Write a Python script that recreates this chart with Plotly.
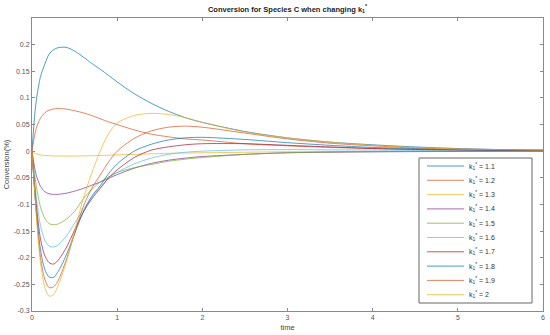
import plotly.graph_objects as go

time = [0, 0.025, 0.05, 0.1, 0.15, 0.2, 0.25, 0.3, 0.4, 0.5, 0.6, 0.7, 0.8, 0.9, 1.0,
        1.2, 1.4, 1.6, 1.8, 2.0, 2.5, 3.0, 3.5, 4.0, 4.5, 5.0, 5.5, 6.0]

k_values = ["1.1", "1.2", "1.3", "1.4", "1.5", "1.6", "1.7", "1.8", "1.9", "2"]

conv_11 = [0, 0.055, 0.095, 0.14, 0.163, 0.182, 0.19, 0.194, 0.195, 0.188, 0.177, 0.165, 0.154, 0.142, 0.13,
           0.108, 0.09, 0.075, 0.063, 0.054, 0.037, 0.025, 0.017, 0.012, 0.008, 0.005, 0.003, 0.002]
conv_12 = [0, 0.025, 0.043, 0.062, 0.072, 0.077, 0.079, 0.08, 0.079, 0.076, 0.072, 0.067, 0.061, 0.055, 0.05,
           0.04, 0.032, 0.027, 0.023, 0.021, 0.014, 0.01, 0.007, 0.005, 0.003, 0.002, 0.0015, 0.001]
conv_13 = [0, -0.003, -0.005, -0.007, -0.008, -0.0085, -0.009, -0.009, -0.0092, -0.009, -0.0088, -0.0085, -0.008, -0.0075, -0.007,
           -0.006, -0.005, -0.004, -0.0035, -0.003, -0.002, -0.001, -0.0007, -0.0005, -0.0003, -0.0002, -0.0001, 0]
conv_14 = [0, -0.025, -0.045, -0.066, -0.076, -0.08, -0.081, -0.081, -0.079, -0.075, -0.07, -0.064, -0.058, -0.051, -0.044,
           -0.032, -0.023, -0.017, -0.013, -0.01, -0.006, -0.003, -0.002, -0.0012, -0.0008, -0.0005, -0.0003, -0.0002]
conv_15 = [0, -0.035, -0.065, -0.105, -0.126, -0.136, -0.138, -0.137, -0.128, -0.113, -0.09, -0.072, -0.058, -0.048, -0.04,
           -0.031, -0.025, -0.019, -0.015, -0.012, -0.006, -0.003, -0.0015, -0.001, -0.0005, -0.0003, -0.0002, -0.0001]
conv_16 = [0, -0.045, -0.085, -0.14, -0.167, -0.178, -0.18, -0.177, -0.16, -0.135, -0.11, -0.087, -0.068, -0.052, -0.04,
           -0.024, -0.013, -0.006, -0.002, 0.0, 0.0025, 0.003, 0.0025, 0.002, 0.0015, 0.001, 0.0007, 0.0005]
conv_17 = [0, -0.055, -0.1, -0.165, -0.196, -0.209, -0.212, -0.206, -0.182, -0.148, -0.115, -0.09, -0.07, -0.05, -0.035,
           -0.012, 0.002, 0.008, 0.012, 0.014, 0.014, 0.011, 0.008, 0.005, 0.0035, 0.0025, 0.0015, 0.001]
conv_18 = [0, -0.06, -0.11, -0.185, -0.222, -0.236, -0.237, -0.228, -0.196, -0.155, -0.115, -0.085, -0.065, -0.042, -0.024,
           0.0, 0.013, 0.021, 0.025, 0.026, 0.022, 0.016, 0.011, 0.007, 0.005, 0.003, 0.002, 0.0015]
conv_19 = [0, -0.06, -0.115, -0.2, -0.24, -0.256, -0.255, -0.245, -0.205, -0.155, -0.105, -0.07, -0.045, -0.02, 0.0,
           0.024, 0.038, 0.045, 0.047, 0.045, 0.034, 0.023, 0.015, 0.01, 0.006, 0.004, 0.003, 0.002]
conv_20 = [0, -0.06, -0.12, -0.21, -0.255, -0.272, -0.27, -0.255, -0.21, -0.15, -0.09, -0.042, 0.0, 0.033, 0.053,
           0.067, 0.071, 0.069, 0.063, 0.054, 0.036, 0.025, 0.017, 0.011, 0.007, 0.004, 0.003, 0.002]

series = [conv_11, conv_12, conv_13, conv_14, conv_15, conv_16, conv_17, conv_18, conv_19, conv_20]

matlab_colors = ["#0072BD", "#D95319", "#EDB120", "#7E2F8E", "#77AC30", "#4DBEEE", "#A2142F"]

x_ticks = [0, 1, 2, 3, 4, 5, 6]
y_ticks = [-0.3, -0.25, -0.2, -0.15, -0.1, -0.05, 0, 0.05, 0.1, 0.15, 0.2]
y_tick_text = ["-0.3", "-0.25", "-0.2", "-0.15", "-0.1", "-0.05", "0", "0.05", "0.1", "0.15", "0.2"]

FONT = "Liberation Sans, Arial, sans-serif"

# plot area in pixels
L, R, T, B = 32, 543, 18, 311
W, H = 550, 335


def px_x(p):
    return (p - L) / (R - L)


def px_y(p):
    return (B - p) / (B - T)


fig = go.Figure()
for i, (k, vals) in enumerate(zip(k_values, series)):
    fig.add_trace(go.Scatter(
        x=time, y=vals, mode="lines",
        line=dict(color=matlab_colors[i % 7], width=1, shape="spline", smoothing=0.8),
        opacity=0.7,
        name="k = " + k, showlegend=False,
    ))

# legend drawn as a boxed key (sizes fixed to match the reference layout)
leg_left, leg_right, leg_top, leg_bottom = 419, 532, 158, 303
fig.add_shape(type="rect", xref="paper", yref="paper",
              x0=px_x(leg_left), x1=px_x(leg_right), y0=px_y(leg_bottom), y1=px_y(leg_top),
              line=dict(color="#666666", width=1), fillcolor="white", layer="above")
for i, k in enumerate(k_values):
    yc = 166 + i * 14.3
    fig.add_shape(type="line", xref="paper", yref="paper",
                  x0=px_x(427), x1=px_x(464), y0=px_y(yc), y1=px_y(yc),
                  line=dict(color=matlab_colors[i % 7], width=1), opacity=0.7, layer="above")
    fig.add_annotation(xref="paper", yref="paper", x=px_x(467), y=px_y(yc),
                       xanchor="left", yanchor="middle", showarrow=False,
                       text="k<sub>1</sub><sup>*</sup> = " + k,
                       font=dict(family=FONT, size=7, color="#333333"))

axis_common = dict(
    showgrid=False, zeroline=False, showline=True, linecolor="#8a8a8a", linewidth=1,
    mirror="ticks", ticks="inside", ticklen=3, tickcolor="#8a8a8a",
    tickfont=dict(family=FONT, size=7, color="#555555"),
)

fig.update_layout(
    width=W, height=H,
    margin=dict(l=L, r=W - R, t=T, b=H - B, autoexpand=False),
    paper_bgcolor="white", plot_bgcolor="white",
    title=dict(text="<b>Conversion for Species C when changing k<sub>1</sub><sup>*</sup></b>",
               x=(L + R) / 2 / W, xanchor="center", y=1 - 9 / H, yanchor="middle",
               font=dict(family=FONT, size=7.5, color="#222222")),
    xaxis=dict(range=[0, 6], tickvals=x_ticks,
               title=dict(text="time", font=dict(family=FONT, size=7.5, color="#444444"), standoff=4),
               **axis_common),
    yaxis=dict(range=[-0.3, 0.25], tickvals=y_ticks, ticktext=y_tick_text,
               title=dict(text="Conversion(%)", font=dict(family=FONT, size=7.5, color="#444444"), standoff=3),
               **axis_common),
    showlegend=False,
)

fig.write_html("out.html",
               config={"displayModeBar": False, "staticPlot": True},
               post_script="document.body.style.margin='0';document.body.style.padding='0';")
